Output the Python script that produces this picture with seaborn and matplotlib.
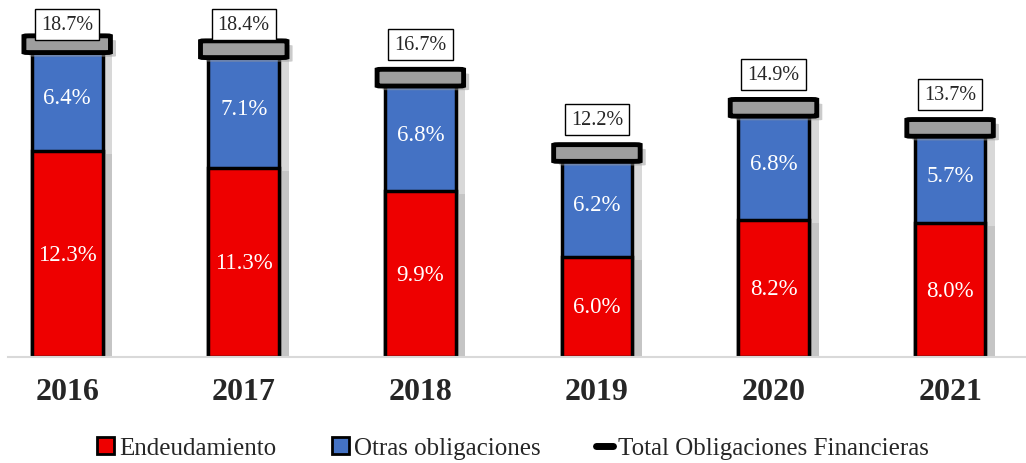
import numpy as np
import matplotlib.pyplot as plt
import matplotlib.patches as mpatches
import matplotlib.patheffects as pe
from matplotlib.lines import Line2D
import seaborn as sns

years = ["2016", "2017", "2018", "2019", "2020", "2021"]
endeudamiento = [12.3, 11.3, 9.9, 6.0, 8.2, 8.0]
otras = [6.4, 7.1, 6.8, 6.2, 6.8, 5.7]
total = [18.7, 18.4, 16.7, 12.2, 14.9, 13.7]

red = "#EE0000"
blue = "#4472C4"
cap_gray = "#9E9E9E"

sns.set_style("white")
plt.rcParams["font.family"] = ["Liberation Serif", "DejaVu Serif"]

fig = plt.figure(figsize=(10.26, 4.64), dpi=100)
ax = fig.add_axes([0.008, 0.228, 0.992, 0.772])

shadow = [pe.SimplePatchShadow(offset=(7, -2), shadow_rgbFace="0.7", alpha=0.5), pe.Normal()]

# stacked: blue = total height, red drawn on top
sns.barplot(x=years, y=total, color=blue, saturation=1, width=0.4,
            edgecolor="black", linewidth=2.5, ax=ax)
sns.barplot(x=years, y=endeudamiento, color=red, saturation=1, width=0.4,
            edgecolor="black", linewidth=2.5, ax=ax)
for p in ax.patches:
    p.set_path_effects(shadow)

# caps and labels
for i in range(len(years)):
    cap = mpatches.FancyBboxPatch((i - 0.245, total[i] - 0.5), 0.49, 1.0,
                                  boxstyle="round,pad=0,rounding_size=0.03",
                                  facecolor=cap_gray, edgecolor="black",
                                  linewidth=3.5, zorder=5,
                                  path_effects=[pe.SimplePatchShadow(offset=(4, -3), shadow_rgbFace="0.6", alpha=0.5), pe.Normal()])
    ax.add_patch(cap)
    ax.text(i, endeudamiento[i] / 2, f"{endeudamiento[i]:.1f}%", ha="center", va="center",
            color="white", fontsize=16.5, zorder=6)
    ax.text(i, endeudamiento[i] + (total[i] - endeudamiento[i]) / 2, f"{otras[i]:.1f}%",
            ha="center", va="center", color="white", fontsize=16.5, zorder=6)
    ax.text(i, min(total[i] + 2.0, 19.9), f"{total[i]:.1f}%", ha="center", va="center",
            fontsize=14.5, zorder=7,
            bbox=dict(boxstyle="square,pad=0.3", facecolor="white", edgecolor="black", linewidth=1))

ax.set_xlim(-0.334, 5.43)
ax.set_ylim(0, 21.4)
ax.set_yticks([])
ax.set_xlabel("")
ax.set_ylabel("")
for s in ["top", "right", "left"]:
    ax.spines[s].set_visible(False)
ax.spines["bottom"].set_color("#D9D9D9")
ax.spines["bottom"].set_linewidth(1.5)
ax.tick_params(axis="x", length=0, pad=14, labelsize=23)
for lab in ax.get_xticklabels():
    lab.set_fontweight("bold")

handles = [
    mpatches.Patch(facecolor=red, edgecolor="black", linewidth=2),
    mpatches.Patch(facecolor=blue, edgecolor="black", linewidth=2),
    Line2D([0], [0], color="black", linewidth=5),
]
fig.legend(handles, ["Endeudamiento", "Otras obligaciones", "Total Obligaciones Financieras"],
           loc="center", bbox_to_anchor=(0.5, 0.032), ncol=3, frameon=False,
           fontsize=18, handlelength=0.7, handleheight=0.7, handletextpad=0.2,
           columnspacing=2.2)

fig.savefig("out.png", dpi=100)
